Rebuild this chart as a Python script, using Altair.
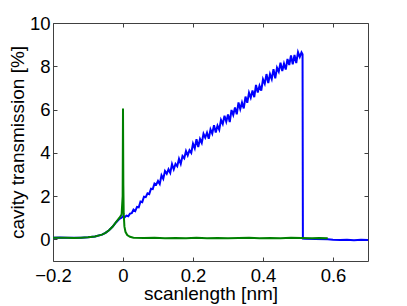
import altair as alt
import numpy as np
import pandas as pd

# ---- data ----
x_ticks = [-0.2, 0, 0.2, 0.4, 0.6]
y_ticks = [0, 2, 4, 6, 8, 10]

# blue trace: flat part + rise before zero
blue_left_x = [-0.2, -0.18, -0.16, -0.14, -0.12, -0.10, -0.08, -0.06, -0.05, -0.04, -0.03, -0.02, -0.01, -0.004]
blue_left_y = [0.08, 0.09, 0.07, 0.08, 0.08, 0.10, 0.13, 0.22, 0.30, 0.42, 0.58, 0.78, 0.95, 1.00]

# blue ramp sampled every 0.005 nm from 0 to 0.51 nm (noisy trace)
blue_ramp_y = [
    1.07, 1.02, 1.10, 1.07, 1.19, 1.21, 1.38, 1.31, 1.50, 1.48,
    1.75, 1.72, 1.97, 1.95, 2.13, 2.09, 2.34, 2.32, 2.58, 2.53,
    2.70, 2.56, 2.96, 2.80, 3.16, 3.03, 3.24, 3.07, 3.48, 3.24,
    3.49, 3.38, 3.72, 3.49, 3.85, 3.75, 4.08, 3.88, 4.12, 4.00,
    4.42, 4.21, 4.63, 4.27, 4.64, 4.46, 4.88, 4.70, 4.93, 4.65,
    5.08, 4.89, 5.28, 4.94, 5.26, 5.07, 5.52, 5.33, 5.71, 5.44,
    5.77, 5.42, 5.98, 5.75, 6.09, 5.78, 6.33, 6.02, 6.33, 6.05,
    6.60, 6.31, 6.78, 6.55, 6.88, 6.57, 7.14, 6.79, 7.10, 6.87,
    7.40, 7.20, 7.64, 7.23, 7.64, 7.41, 7.87, 7.44, 7.93, 7.75,
    8.16, 7.78, 8.12, 7.85, 8.34, 8.06, 8.50, 8.09, 8.52, 8.15,
    8.65, 8.43, 8.64,
]
blue_ramp_start, blue_ramp_end = 0.0, 0.51

# blue after the drop
blue_right_x = [0.513, 0.514, 0.52, 0.55, 0.585, 0.60, 0.62, 0.64, 0.66, 0.68, 0.70]
blue_right_y = [8.55, 0.04, 0.03, 0.02, 0.00, -0.02, -0.03, -0.02, -0.04, -0.02, -0.03]

# green trace
green_x = [-0.2, -0.18, -0.16, -0.14, -0.12, -0.10, -0.08, -0.06, -0.05, -0.04, -0.03,
           -0.02, -0.01, -0.004, -0.001, 0.0, 0.001, 0.002, 0.004, 0.007, 0.012, 0.02,
           0.03, 0.06, 0.09, 0.12, 0.15, 0.18, 0.21, 0.24, 0.27, 0.30, 0.33, 0.36,
           0.39, 0.42, 0.45, 0.48, 0.51, 0.54, 0.56, 0.585]
green_y = [0.08, 0.07, 0.08, 0.06, 0.08, 0.10, 0.13, 0.22, 0.30, 0.42, 0.58,
           0.80, 1.00, 1.15, 2.00, 6.05, 2.50, 1.20, 0.60, 0.35, 0.20, 0.12,
           0.08, 0.06, 0.07, 0.05, 0.06, 0.05, 0.07, 0.05, 0.06, 0.05, 0.06, 0.07,
           0.05, 0.06, 0.05, 0.07, 0.06, 0.05, 0.06, 0.05]

# ---- tables ----
ramp_x = np.round(np.linspace(blue_ramp_start, blue_ramp_end, len(blue_ramp_y)), 4)
bx = list(blue_left_x) + list(ramp_x) + list(blue_right_x)
by = list(blue_left_y) + list(blue_ramp_y) + list(blue_right_y)
blue = pd.DataFrame({"x": bx, "y": by, "i": range(len(bx))})
green = pd.DataFrame({"x": green_x, "y": green_y, "i": range(len(green_x))})

FONT = "Liberation Sans"
AX = "#404040"
xscale = alt.Scale(domain=[-0.2, 0.7], nice=False, zero=False)
yscale = alt.Scale(domain=[-1, 10], nice=False, zero=False)

common_axis = dict(
    domainColor=AX, domainWidth=1, tickColor=AX, tickWidth=1,
    tickSize={"expr": "-4"}, grid=False,
    labelFont=FONT, labelFontSize=18.5, labelColor="black",
    titleFont=FONT, titleFontSize=19, titleColor="black", titleFontWeight="normal",
)

x_bottom = alt.Axis(
    orient="bottom", values=x_ticks, title="scanlength [nm]",
    labelExpr="replace(format(datum.value, '.1~f'), '-', '\u2212')",
    labelPadding=9, labelFlush=False,
    titleY=38, titleBaseline="alphabetic",
    **common_axis,
)
y_left = alt.Axis(
    orient="left", values=y_ticks, title="cavity transmission [%]",
    labelPadding=7, labelFlush=False,
    titleX=-30, titleBaseline="alphabetic",
    **common_axis,
)
x_top = alt.Axis(orient="top", values=x_ticks, title=None, labels=False, **common_axis)
y_right = alt.Axis(orient="right", values=y_ticks, title=None, labels=False, **common_axis)

blue_layer = alt.Chart(blue).mark_line(color="#0000FF", strokeWidth=2, clip=True).encode(
    x=alt.X("x:Q", scale=xscale, axis=x_bottom),
    y=alt.Y("y:Q", scale=yscale, axis=y_left),
    order="i:Q",
)
green_layer = alt.Chart(green).mark_line(color="#008000", strokeWidth=2, clip=True).encode(
    x=alt.X("x:Q", scale=xscale, axis=x_top),
    y=alt.Y("y:Q", scale=yscale, axis=y_right),
    order="i:Q",
)

chart = (
    alt.layer(blue_layer, green_layer)
    .resolve_axis(x="independent", y="independent")
    .properties(
        width=315, height=238,
        autosize=alt.AutoSizeParams(type="none"),
        padding={"left": 45, "top": 15, "right": 31, "bottom": 43},
        background="white",
    )
    .configure_view(stroke=None)
)

chart.save("out.html", embed_options={"renderer": "svg", "actions": False})
